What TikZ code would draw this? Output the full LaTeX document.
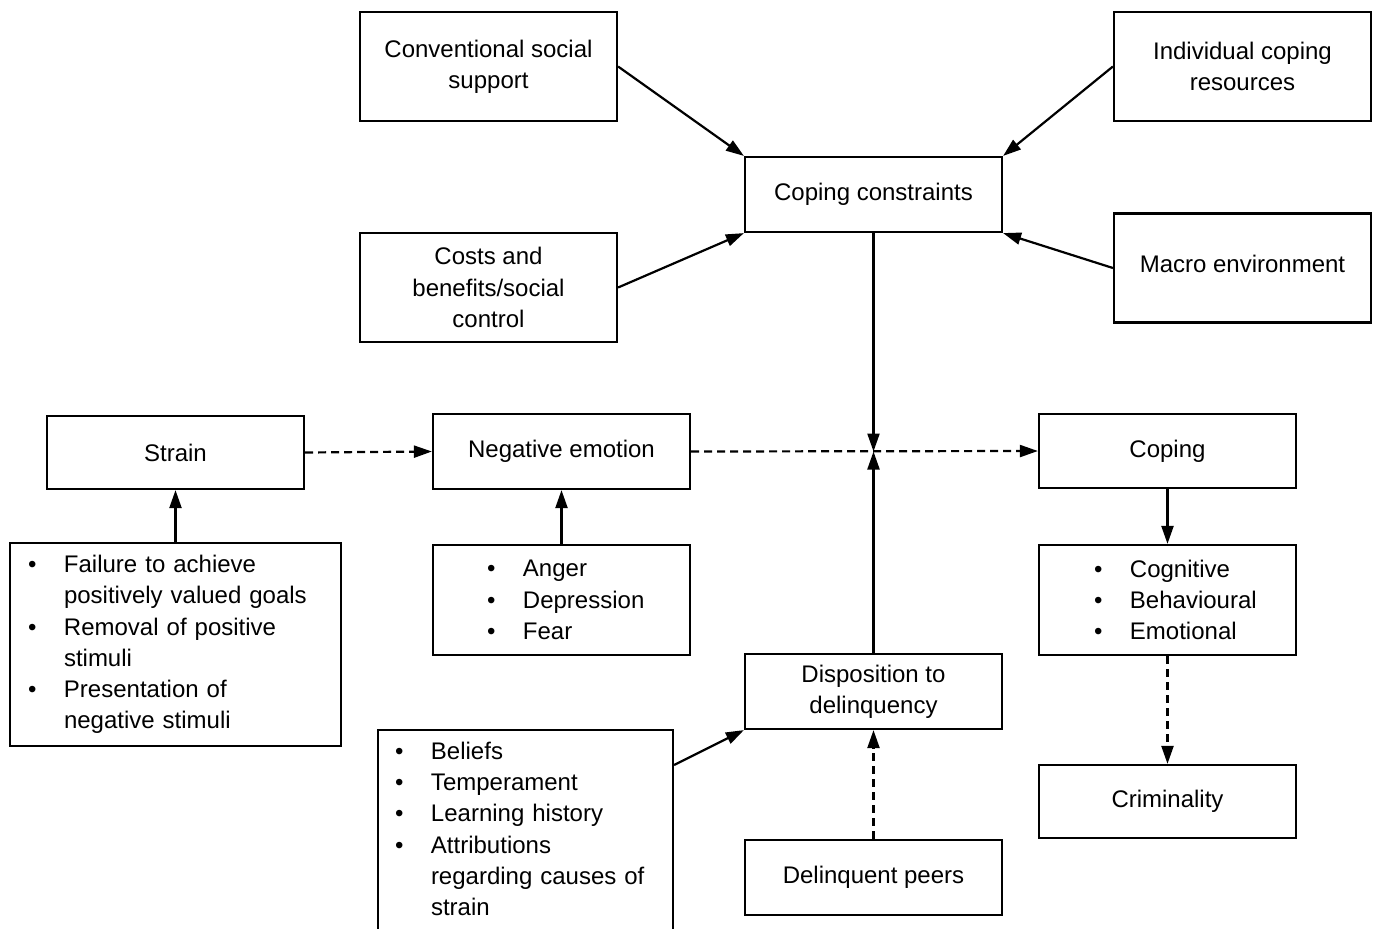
\documentclass[tikz,border=0pt]{standalone}
\usepackage{fontspec}
\setmainfont{Liberation Sans}
\usetikzlibrary{arrows.meta}
\newcommand{\bitem}[1]{\makebox[18pt][l]{\textbullet}#1}
\newcommand{\bcont}[1]{\hspace*{18pt}#1}

\begin{document}
\begin{tikzpicture}[x=0.5pt, y=-0.5pt, line join=miter, font=\fontsize{12}{15.6}\selectfont]
\tikzset{box/.style={draw, line width=1.1pt, minimum width=128.5pt, minimum height=37.5pt, inner sep=2pt, align=center},
  tallbox/.style={box, minimum height=54.5pt},
  listbox/.style={draw, line width=1.1pt, align=left, inner ysep=0pt},
  arr/.style={-{Triangle[length=9pt,width=6pt]}, line width=1.1pt},
  darr/.style={arr, dash pattern=on 4pt off 2.5pt}}

\useasboundingbox (0,0) rectangle (1378,928);
\clip (0,0) rectangle (1378,928);
\fill[white] (0,0) rectangle (1378,928);

% top row (px)
\node[tallbox] (css)   at (488.5,66.5)  {Conventional social\\support};
\node[tallbox] (ind)   at (1242.5,66.5) {Individual coping\\resources};
\node[box]     (cc)    at (873.5,194.5) {Coping constraints};
\node[tallbox] (cost)  at (488.5,287.5) {Costs and\\benefits/social\\control};
\node[tallbox] (macro) at (1242.5,268)  {\raisebox{4pt}{Macro environment}};

% middle row
\node[box, minimum height=36.5pt] (strain) at (175.5,452.5)  {Strain};
\node[box]                        (negemo) at (561.5,451.5)  {Negative emotion};
\node[box, minimum height=37pt]   (coping) at (1167.5,451)   {Coping};
\coordinate (jn) at (873.5,451.5);

% lists
\node[listbox, text width=147.5pt, inner xsep=9pt, minimum height=101.5pt] (slist) at (175.5,644.5)
  {\bitem{Failure to achieve}\\\bcont{positively valued goals}\\\bitem{Removal of positive}\\\bcont{stimuli}\\\bitem{Presentation of}\\\bcont{negative stimuli}};
\node[listbox, text width=74.5pt, inner xsep=27pt, minimum height=55pt] (elist) at (561.5,600)
  {\bitem{Anger}\\\bitem{Depression}\\\bitem{Fear}};
\node[listbox, text width=73.5pt, inner xsep=27.5pt, minimum height=55pt] (clist) at (1167.5,600)
  {\bitem{Cognitive}\\\bitem{Behavioural}\\\bitem{Emotional}};
\node[listbox, text width=130.5pt, inner xsep=8.5pt, inner ysep=6pt, text depth=95pt, anchor=north] (blist) at (525.5,729)
  {\bitem{Beliefs}\\\bitem{Temperament}\\\bitem{Learning history}\\\bitem{Attributions}\\\bcont{regarding causes of}\\\bcont{strain}};

% bottom
\node[box]                        (disp)  at (873.5,691.5)  {Disposition to\\delinquency};
\node[box]                        (peers) at (873.5,877.5)  {Delinquent peers};
\node[box, minimum height=36.5pt] (crim)  at (1167.5,801.5) {Criminality};

% arrows
\draw[arr] (css.east) -- (cc.north west);
\draw[arr] (ind.west) -- (cc.north east);
\draw[arr] (cost.east) -- (cc.south west);
\draw[arr] (macro.west) -- (cc.south east);
\draw[arr] (cc.south) -- (jn);
\draw[arr] (disp.north) -- (jn);
\draw[darr] (strain.east) -- (negemo.west);
\draw[darr] (negemo.east) -- (coping.west);
\draw[arr] (slist.north) -- (strain.south);
\draw[arr] (elist.north) -- (negemo.south);
\draw[arr] (coping.south) -- (clist.north);
\draw[darr] (clist.south) -- (crim.north);
\draw[arr] ([yshift=-18pt]blist.north east) -- (disp.south west);
\draw[darr] (peers.north) -- (disp.south);
\end{tikzpicture}
\end{document}
